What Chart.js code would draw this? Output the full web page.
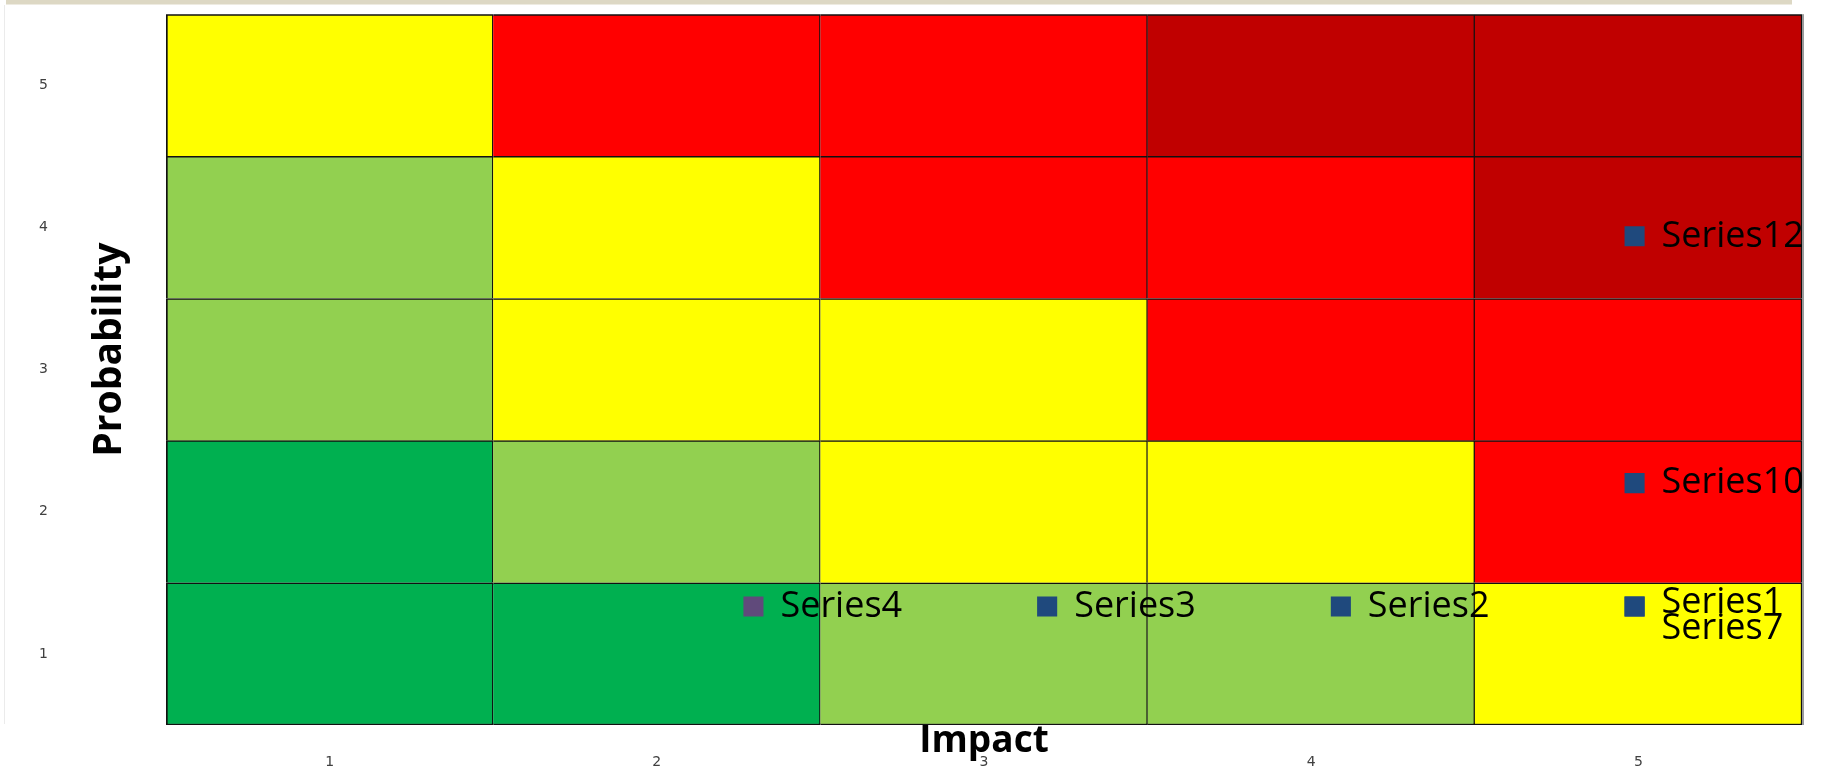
<!DOCTYPE html>
<html>
<head>
<meta charset="utf-8">
<title>Risk matrix</title>
<script src="https://cdn.jsdelivr.net/npm/chart.js@4/dist/chart.umd.min.js"></script>
<style>
  html, body { margin: 0; padding: 0; background: #ffffff; }
  #wrap { width: 1824px; height: 770px; }
</style>
</head>
<body>
<div id="wrap"><canvas id="risk" width="1824" height="770"></canvas></div>
<script>
// Axis categories
const impactLabels = ['1', '2', '3', '4', '5'];
const probabilityLevels = [1, 2, 3, 4, 5];

// Risk level of each cell, one row per probability level, ordered by impact 1..5
const riskP1 = ['G', 'G', 'LG', 'LG', 'Y'];
const riskP2 = ['G', 'LG', 'Y', 'Y', 'R'];
const riskP3 = ['LG', 'Y', 'Y', 'R', 'R'];
const riskP4 = ['LG', 'Y', 'R', 'R', 'DR'];
const riskP5 = ['Y', 'R', 'R', 'DR', 'DR'];
const riskRows = [riskP1, riskP2, riskP3, riskP4, riskP5];

const riskColours = { G: '#00B050', LG: '#92D050', Y: '#FFFF00', R: '#FF0000', DR: '#C00000' };

// Plotted risks
const seriesNames = ['Series1', 'Series2', 'Series3', 'Series4', 'Series7', 'Series10', 'Series12'];
const seriesImpact = [5, 4, 3, 2, 5, 5, 5];
const seriesProbability = [1, 1, 1, 1, 1, 2, 4];
const seriesColours = ['#1F497D', '#1F497D', '#1F497D', '#604A7B', '#1F497D', '#1F497D', '#1F497D'];

// One floating-bar dataset per probability row: each bar spans one cell
const cellDatasets = riskRows.map((row, r) => {
  const p = probabilityLevels[r];
  return {
    type: 'bar',
    label: 'P' + p,
    data: row.map(() => [p - 0.5, p + 0.5]),
    backgroundColor: row.map(k => riskColours[k]),
    borderColor: '#111111',
    borderWidth: ctx => ({
      left: ctx.dataIndex === 0 ? 2 : 0,
      right: 1.5,
      top: r === riskRows.length - 1 ? 2 : 1.5,
      bottom: r === 0 ? 1.5 : 0
    }),
    borderSkipped: false,
    grouped: false,
    categoryPercentage: 1,
    barPercentage: 1,
    xAxisID: 'x',
    yAxisID: 'y',
    order: 2
  };
});

const pointDatasets = seriesNames.map((name, i) => ({
  type: 'scatter',
  label: name,
  data: [{ x: seriesImpact[i], y: seriesProbability[i] }],
  backgroundColor: seriesColours[i],
  borderColor: seriesColours[i],
  borderWidth: 0,
  pointStyle: 'rect',
  pointRadius: 14.2,
  pointHoverRadius: 14.2,
  xAxisID: 'x2',
  yAxisID: 'y2',
  order: 1
}));

// Page frame: header strip and faint left rule
const framePlugin = {
  id: 'frame',
  beforeDraw(chart) {
    const c = chart.ctx;
    c.save();
    c.fillStyle = '#ffffff';
    c.fillRect(0, 0, chart.width, chart.height);
    c.fillStyle = '#DDD8C4';
    c.fillRect(6, 0, 1786, 4.5);
    c.fillStyle = '#ebebeb';
    c.fillRect(4, 5, 1, 719);
    c.restore();
  },
  afterDatasetsDraw(chart) {
    const a = chart.chartArea;
    const c = chart.ctx;
    c.save();
    c.fillStyle = '#9a9a9a';
    c.fillRect(a.right, a.top, 2, a.bottom - a.top);
    c.restore();
  }
};

// Series name labels placed to the right of each marker; names sharing a point are stacked
const pointLabelPlugin = {
  id: 'pointLabels',
  afterDatasetsDraw(chart) {
    const c = chart.ctx;
    const seen = {};
    c.save();
    c.font = '36px "Open Sans"';
    c.fillStyle = '#000000';
    c.textAlign = 'left';
    c.textBaseline = 'middle';
    chart.data.datasets.forEach((ds, i) => {
      if (ds.type !== 'scatter') return;
      const el = chart.getDatasetMeta(i).data[0];
      if (!el) return;
      const key = Math.round(el.x) + ':' + Math.round(el.y);
      const shared = chart.data.datasets.filter((d, j) => {
        if (d.type !== 'scatter') return false;
        const e = chart.getDatasetMeta(j).data[0];
        return e && Math.round(e.x) + ':' + Math.round(e.y) === key;
      }).length;
      const n = seen[key] || 0;
      seen[key] = n + 1;
      const dy = shared > 1 ? -4 + n * 26 : 0;
      c.fillText(ds.label, el.x + 27, el.y + dy);
    });
    c.restore();
  }
};

// Axis titles drawn between tick labels and the plot
const axisTitlePlugin = {
  id: 'axisTitles',
  afterDraw(chart) {
    const a = chart.chartArea;
    const c = chart.ctx;
    c.save();
    c.fillStyle = '#000000';
    c.font = 'bold 37px "Open Sans"';
    c.textAlign = 'center';
    c.textBaseline = 'alphabetic';
    c.fillText('Impact', (a.left + a.right) / 2, a.bottom + 27);
    c.translate(121, (a.top + a.bottom) / 2 - 20);
    c.rotate(-Math.PI / 2);
    c.font = 'bold 39px "Open Sans"';
    c.fillText('Probability', 0, 0);
    c.restore();
  }
};

new Chart(document.getElementById('risk'), {
  type: 'bar',
  data: {
    labels: impactLabels,
    datasets: [...pointDatasets, ...cellDatasets]
  },
  options: {
    responsive: false,
    animation: false,
    devicePixelRatio: 1,
    layout: { padding: { left: 39, top: 12, right: 22, bottom: 0 } },
    plugins: {
      legend: { display: false },
      tooltip: { enabled: false }
    },
    scales: {
      x: {
        type: 'category',
        offset: true,
        grid: { display: false, drawTicks: false },
        border: { display: false },
        ticks: {
          padding: 29,
          color: '#404040',
          font: { family: 'DejaVu Sans', size: 14 }
        },
        afterFit(scale) { scale.height = 45; }
      },
      y: {
        type: 'linear',
        min: 0.5,
        max: 5.5,
        grid: { display: false, drawTicks: false },
        border: { display: false },
        afterBuildTicks(scale) {
          scale.ticks = probabilityLevels.map(v => ({ value: v }));
        },
        ticks: {
          padding: 2,
          crossAlign: 'far',
          color: '#404040',
          font: { family: 'DejaVu Sans', size: 14 }
        },
        afterFit(scale) { scale.width = 127; }
      },
      x2: {
        type: 'linear',
        display: false,
        offset: false,
        min: 0,
        max: 5.57
      },
      y2: {
        type: 'linear',
        display: false,
        offset: false,
        min: 0.04,
        max: 5.8
      }
    }
  },
  plugins: [framePlugin, pointLabelPlugin, axisTitlePlugin]
});
</script>
</body>
</html>
